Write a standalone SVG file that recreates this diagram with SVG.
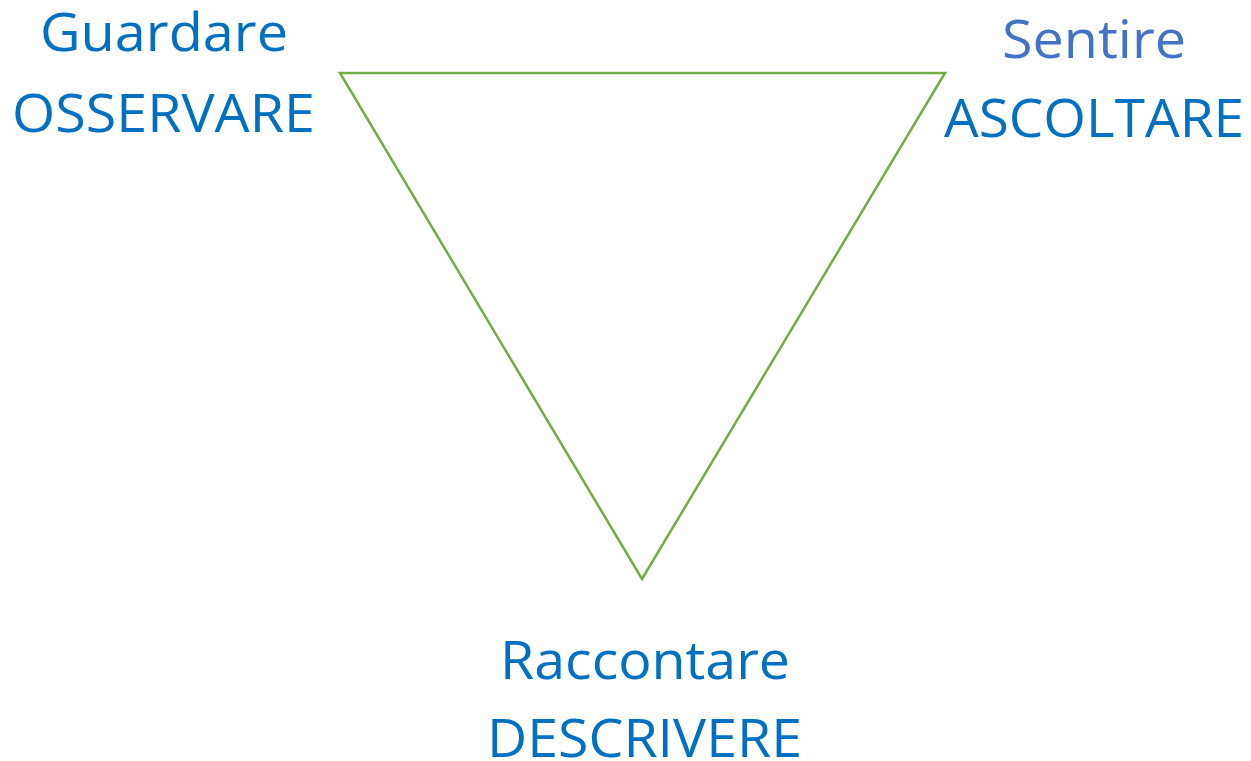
<svg xmlns="http://www.w3.org/2000/svg" width="1251" height="761" viewBox="0 0 1251 761">
<style>
.t{font-family:"Open Sans","Noto Sans","Liberation Sans",sans-serif;font-size:53px;fill:#0070C0;text-anchor:middle}
.s{fill:#4472C4}
</style>
<rect width="1251" height="761" fill="#FFFFFF"/>
<g id="connectors">
<polygon points="340,73 945,73 642,579" fill="none" stroke="#70AD47" stroke-width="2.5" stroke-linejoin="miter"/>
</g>
<g id="node-guardare">
<text class="t" x="164" y="51" textLength="248" lengthAdjust="spacingAndGlyphs">Guardare</text>
<text class="t" x="163.5" y="132" textLength="303" lengthAdjust="spacingAndGlyphs">OSSERVARE</text>
</g>
<g id="node-sentire">
<text class="t s" x="1094" y="58" textLength="184" lengthAdjust="spacingAndGlyphs">Sentire</text>
<text class="t" x="1094" y="137" textLength="300" lengthAdjust="spacingAndGlyphs">ASCOLTARE</text>
</g>
<g id="node-raccontare">
<text class="t" x="645" y="679" textLength="290" lengthAdjust="spacingAndGlyphs">Raccontare</text>
<text class="t" x="644.5" y="757" textLength="315" lengthAdjust="spacingAndGlyphs">DESCRIVERE</text>
</g>
</svg>
